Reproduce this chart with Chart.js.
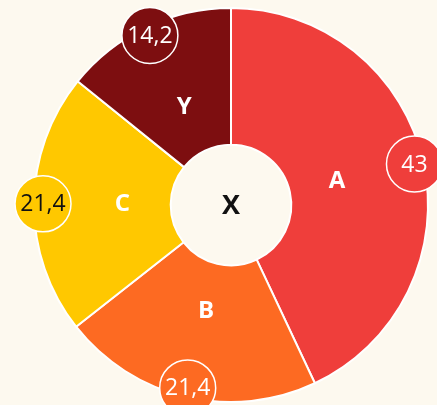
<!DOCTYPE html>
<html>
<head>
<meta charset="utf-8">
<script src="https://cdn.jsdelivr.net/npm/chart.js@4"></script>
<style>
  html, body { margin: 0; padding: 0; background: #fdf9ef; }
  #wrap { width: 437px; height: 405px; }
</style>
</head>
<body>
<div id="wrap"><canvas id="donut"></canvas></div>
<script>
var names = ['A', 'B', 'C', 'Y'];
var values = [43, 21.4, 21.4, 14.2];
var colors = ['#ef3e3b', '#fd6a22', '#ffc800', '#7d0e10'];
var valueTextColors = ['#ffffff', '#ffffff', '#111111', '#ffffff'];
var centerLabel = 'X';

function fmt(v) {
  return String(v).replace('.', ',');
}

// background + labels drawn on top of the arcs
var labelPlugin = {
  id: 'labels',
  beforeDraw: function(chart) {
    var ctx = chart.ctx;
    ctx.save();
    ctx.fillStyle = '#fdf9ef';
    ctx.fillRect(0, 0, chart.width, chart.height);
    ctx.restore();
  },
  afterDatasetsDraw: function(chart) {
    var ctx = chart.ctx;
    var arcs = chart.getDatasetMeta(0).data;
    ctx.save();
    ctx.textAlign = 'center';
    ctx.textBaseline = 'middle';
    for (var i = 0; i < arcs.length; i++) {
      var p = arcs[i].getProps(['x', 'y', 'startAngle', 'endAngle', 'innerRadius', 'outerRadius']);
      var mid = (p.startAngle + p.endAngle) / 2;
      // category name inside the slice
      var rIn = (p.innerRadius + p.outerRadius) / 2 - 20;
      ctx.font = 'bold 24px "Open Sans"';
      ctx.fillStyle = '#ffffff';
      ctx.fillText(names[i], p.x + Math.cos(mid) * rIn, p.y + Math.sin(mid) * rIn);
      // value bubble on the outer edge
      var rOut = p.outerRadius - 9;
      var bx = p.x + Math.cos(mid) * rOut;
      var by = p.y + Math.sin(mid) * rOut;
      ctx.beginPath();
      ctx.arc(bx, by, 28, 0, Math.PI * 2);
      ctx.fillStyle = colors[i];
      ctx.fill();
      ctx.lineWidth = 1.5;
      ctx.strokeStyle = '#ffffff';
      ctx.stroke();
      ctx.font = '23px "Open Sans"';
      ctx.fillStyle = valueTextColors[i];
      ctx.fillText(fmt(values[i]), bx, by + 1);
    }
    var c = arcs[0];
    ctx.font = 'bold 27px "Open Sans"';
    ctx.fillStyle = '#111111';
    ctx.fillText(centerLabel, c.x, c.y + 1);
    ctx.restore();
  }
};

document.addEventListener('DOMContentLoaded', function() {
  new Chart(document.getElementById('donut'), {
    type: 'doughnut',
    data: {
      labels: names,
      datasets: [{
        data: values,
        backgroundColor: colors,
        borderColor: '#ffffff',
        borderWidth: 2
      }]
    },
    options: {
      responsive: true,
      maintainAspectRatio: false,
      animation: false,
      radius: 197,
      cutout: 60,
      layout: {
        padding: { left: 25, right: 0, top: 8, bottom: 3 }
      },
      plugins: {
        legend: { display: false },
        tooltip: { enabled: false }
      }
    },
    plugins: [labelPlugin]
  });
});
</script>
</body>
</html>
